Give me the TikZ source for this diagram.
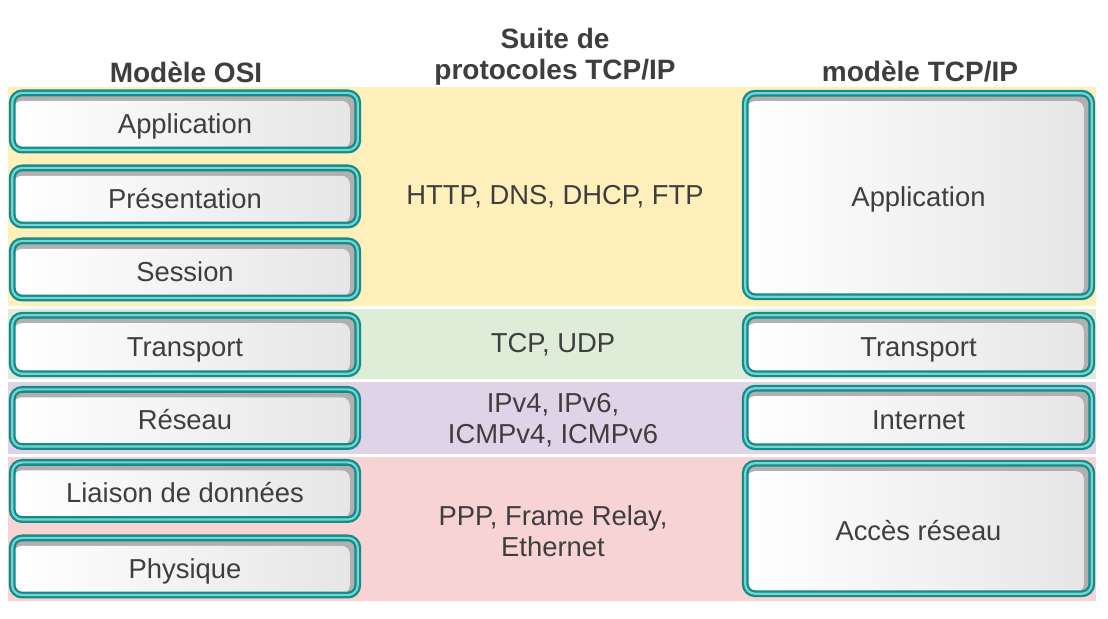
\documentclass[tikz,border=0pt]{standalone}
\usepackage{fontspec}
\setmainfont{Liberation Sans}
\definecolor{tealdark}{RGB}{24,138,136}
\definecolor{teallight}{RGB}{112,214,214}
\definecolor{txtgray}{RGB}{62,62,62}
\definecolor{bandyellow}{RGB}{255,240,187}
\definecolor{bandgreen}{RGB}{221,237,216}
\definecolor{bandpurple}{RGB}{223,211,232}
\definecolor{bandpink}{RGB}{248,211,212}

\begin{document}
\begin{tikzpicture}[x=0.5pt,y=-0.5pt,
  layer/.style={draw=tealdark, double=teallight, line width=1.15pt, double distance=1.1pt,
    rounded corners=5pt, fill=gray!62, inner sep=0pt, text=txtgray,
    font=\fontsize{13.7}{16}\selectfont, text height=1.3em, text depth=0.13em,
    path picture={\shade[left color=white, right color=gray!20, rounded corners=4pt]
      ([xshift=0.8pt,yshift=0.8pt]path picture bounding box.south west) rectangle
      ([xshift=-4pt,yshift=-4pt]path picture bounding box.north east);}},
  osi/.style={layer, minimum width=172.8pt, minimum height=28.6pt},
  tcpip/.style={layer, minimum width=173.3pt},
  head/.style={text=txtgray, font=\fontsize{14}{15.5}\bfseries\selectfont, align=center},
  proto/.style={text=txtgray, font=\fontsize{13.7}{15.5}\selectfont, align=center}]

\useasboundingbox [fill=white] (0,0) rectangle (1108,619);

% bandes de couleur
\fill [bandyellow] (8,87) rectangle (1096,306);
\fill [bandgreen] (8,309) rectangle (1096,379);
\fill [bandpurple] (8,382) rectangle (1096,454);
\fill [bandpink] (8,457) rectangle (1096,601);

% titres
\node [head] (hosi) at (186,72) {Modèle OSI};
\node [head, anchor=base] (hsuite) at (555,80) {Suite de\\protocoles TCP/IP};
\node [head] (htcpip) at (920,72) {modèle TCP/IP};

% modele OSI
\node [osi] (app) at (185,121.5) {Application};
\node [osi] (pres) at (185,196.5) {Présentation};
\node [osi] (sess) at (185,269.5) {Session};
\node [osi, minimum height=29.3pt] (trans) at (185,344.5) {Transport};
\node [osi] (res) at (185,418) {Réseau};
\node [osi] (liai) at (185,491) {Liaison de données};
\node [osi] (phys) at (185,566.5) {Physique};

% protocoles
\node [proto] (papp) at (555,197) {HTTP, DNS, DHCP, FTP};
\node [proto] (ptrans) at (553,345) {TCP, UDP};
\node [proto] (pres4) at (553,420) {IPv4, IPv6,\\ICMPv4, ICMPv6};
\node [proto] (pacc) at (553,531) {PPP, Frame Relay,\\Ethernet};

% modele TCP/IP
\node [tcpip, minimum height=101.8pt] (tapp) at (918.5,195) {Application};
\node [tcpip, minimum height=29.3pt] (ttrans) at (918.5,344.5) {Transport};
\node [tcpip, minimum height=29.3pt] (tint) at (918.5,417.5) {Internet};
\node [tcpip, minimum height=65.3pt] (tacc) at (918.5,528.5) {Accès réseau};

\end{tikzpicture}
\end{document}
